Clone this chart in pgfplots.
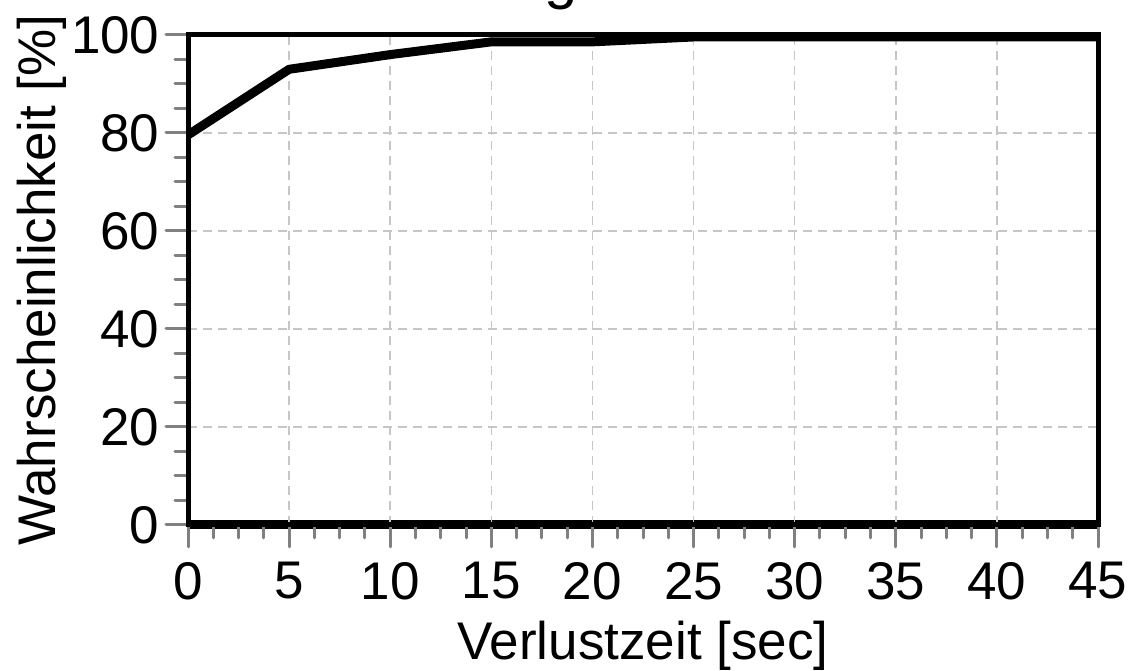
\documentclass[border=0pt]{standalone}
\usepackage{pgfplots}
\pgfplotsset{compat=1.18}
\usepackage{fontspec}
\setmainfont{Liberation Sans}
\begin{document}
\begin{tikzpicture}
\pgfplotsset{layers/mylayers/.define layer set={axis background,axis lines,axis grid,axis ticks,axis tick labels,pre main,main,axis descriptions,axis foreground}{}}
\begin{axis}[
 set layers=mylayers,
 at={(188pt,145pt)}, anchor=south west,
 scale only axis, width=910pt, height=490pt,
 xmin=0, xmax=45, ymin=0, ymax=100,
 xtick={0,5,...,45}, ytick={0,20,...,100},
 minor x tick num=3, minor y tick num=3,
 grid=major,
 grid style={gray!45, line width=1.5pt, dash pattern=on 9pt off 6pt},
 axis line style={line width=5pt},
 tick align=outside, tick pos=left,
 major tick length=22pt, minor tick length=13pt,
 tick style={gray, line width=3pt, line cap=round},
 /pgf/number format/assume math mode=true,
 ticklabel style={font=\fontsize{53}{60}\selectfont},
 xticklabel style={yshift=-12pt},
 yticklabel style={xshift=-3pt},
 label style={font=\fontsize{53}{60}\selectfont},
 xlabel={Verlustzeit [sec]}, ylabel={Wahrscheinlichkeit [\%]},
 xlabel style={yshift=-14pt},
 ylabel style={yshift=-2pt},
]
\begin{pgfonlayer}{axis lines}
\draw[line width=9pt] (rel axis cs:0,0) -- (rel axis cs:1,0);
\end{pgfonlayer}
\addplot[black, line width=9pt, line join=round] coordinates {
(0,79.6) (5,93.0) (10,96.0) (15,98.6) (20,98.6) (25,99.6) (30,99.6) (35,99.6) (40,99.6) (45,99.6)};
\end{axis}
\node[anchor=base, font=\fontsize{60}{70}\selectfont] at (643pt,672.5pt) {Verteilung der Verlustzeit};
\pgfresetboundingbox
\useasboundingbox (0,0) rectangle (1136pt,670pt);
\end{tikzpicture}
\end{document}
